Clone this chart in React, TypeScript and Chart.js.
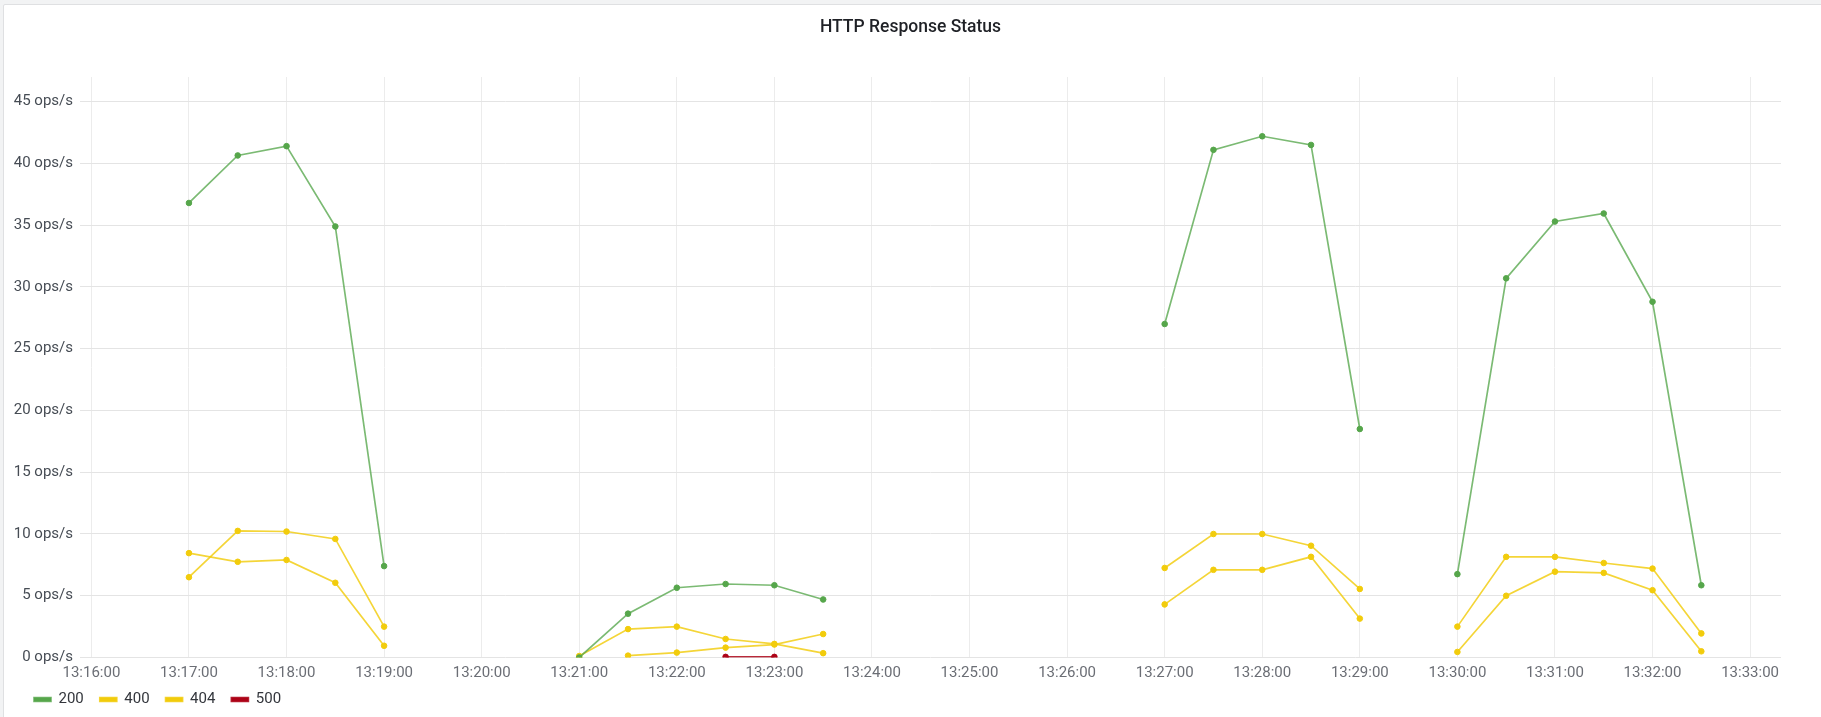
import React, { useEffect, useRef } from "react";
import { Chart, registerables } from "chart.js";

Chart.register(...registerables);

// ---- data ----
const times = [
  "13:17:00", "13:17:30", "13:18:00", "13:18:30", "13:19:00", "13:19:30",
  "13:20:00", "13:20:30", "13:21:00", "13:21:30", "13:22:00", "13:22:30",
  "13:23:00", "13:23:30", "13:24:00", "13:24:30", "13:25:00", "13:25:30",
  "13:26:00", "13:26:30", "13:27:00", "13:27:30", "13:28:00", "13:28:30",
  "13:29:00", "13:29:30", "13:30:00", "13:30:30", "13:31:00", "13:31:30",
  "13:32:00", "13:32:30",
];

const status200 = [
  36.8, 40.65, 41.4, 34.9, 7.4, null, null, null, 0.0, 3.55, 5.65, 5.95,
  5.85, 4.7, null, null, null, null, null, null, 27.0, 41.1, 42.2, 41.5,
  18.5, null, 6.75, 30.7, 35.3, 35.95, 28.8, 5.85,
];

const status400 = [
  6.5, 10.25, 10.2, 9.6, 2.5, null, null, null, 0.12, 2.3, 2.5, 1.5,
  1.1, 0.35, null, null, null, null, null, null, 7.25, 10.0, 10.0, 9.05,
  5.55, null, 2.5, 8.15, 8.15, 7.65, 7.2, 1.95,
];

const status404 = [
  8.45, 7.75, 7.9, 6.05, 0.95, null, null, null, null, 0.15, 0.4, 0.8,
  1.05, 1.9, null, null, null, null, null, null, 4.3, 7.1, 7.1, 8.15,
  3.15, null, 0.45, 5.0, 6.95, 6.85, 5.45, 0.5,
];

const status500 = [
  null, null, null, null, null, null, null, null, null, null, null, 0.05,
  0.05, null, null, null, null, null, null, null, null, null, null, null,
  null, null, null, null, null, null, null, null,
];

const xTickLabels = [
  "13:16:00", "13:17:00", "13:18:00", "13:19:00", "13:20:00", "13:21:00",
  "13:22:00", "13:23:00", "13:24:00", "13:25:00", "13:26:00", "13:27:00",
  "13:28:00", "13:29:00", "13:30:00", "13:31:00", "13:32:00", "13:33:00",
];
const xRange = ["13:15:53", "13:33:19"];
const yTickValues = [0, 5, 10, 15, 20, 25, 30, 35, 40, 45];
const yMax = 47;

const toSec = (t: string) => {
  const [h, m, s] = t.split(":").map(Number);
  return h * 3600 + m * 60 + s;
};

const GREEN = "#56A64B";
const YELLOW = "#F2CC0C";
const RED = "#AD0317";

const GREEN_LINE = "rgba(86,166,75,0.78)";
const YELLOW_LINE = "rgba(242,204,12,0.82)";
const RED_LINE = "rgba(173,3,23,0.85)";

// widen the label clip boxes of the axes so tick text is not cut off
const unclipLabels = {
  id: "unclipLabels",
  afterLayout(chart: any) {
    if (chart.scales.y) chart.scales.y.left = 0;
    if (chart.scales.x) chart.scales.x.bottom = chart.height;
  },
};

export default function App() {
  const ref = useRef<HTMLCanvasElement>(null);

  useEffect(() => {
    document.body.style.margin = "0";
    Chart.defaults.font.family = "Roboto, sans-serif";

    const mk = (
      label: string,
      vals: (number | null)[],
      color: string,
      line: string
    ) => ({
      label,
      data: times.map((t, i) => ({ x: toSec(t), y: vals[i] })),
      borderColor: line,
      backgroundColor: color,
      pointBackgroundColor: color,
      pointBorderColor: color,
      borderWidth: 1.7,
      pointRadius: 2.8,
      pointBorderWidth: 1,
      pointHoverRadius: 3,
      spanGaps: false,
      tension: 0,
      fill: false,
    });

    const chart = new Chart(ref.current!, {
      type: "line",
      data: {
        datasets: [
          mk("200", status200, GREEN, GREEN_LINE),
          mk("400", status400, YELLOW, YELLOW_LINE),
          mk("404", status404, YELLOW, YELLOW_LINE),
          mk("500", status500, RED, RED_LINE),
        ],
      },
      plugins: [unclipLabels],
      options: {
        responsive: false,
        animation: false,
        layout: { padding: { left: 18, right: 18, top: 0, bottom: 0 } },
        plugins: {
          title: {
            display: true,
            text: "HTTP Response Status",
            color: "#1f2126",
            font: { size: 17.5, weight: "500" as any },
            padding: { top: 17, bottom: 39 },
          },
          legend: {
            position: "bottom",
            align: "start",
            labels: {
              boxWidth: 17,
              boxHeight: 4,
              padding: 16,
              color: "#33363c",
              font: { size: 15 },
            },
          },
          tooltip: { enabled: false },
        },
        scales: {
          x: {
            type: "linear",
            min: toSec(xRange[0]),
            max: toSec(xRange[1]),
            afterBuildTicks: (axis: any) => {
              axis.ticks = xTickLabels.map((l) => ({ value: toSec(l) }));
            },
            afterFit: (s: any) => {
              s.height = 18.5;
            },
            ticks: {
              callback: (_v: any, i: number) => xTickLabels[i],
              color: "#6b6e75",
              font: { size: 15 },
              padding: 7,
              maxRotation: 0,
              autoSkip: false,
            },
            grid: { color: "#ececec", drawTicks: false },
            border: { display: false },
          },
          y: {
            type: "linear",
            min: 0,
            max: yMax,
            afterBuildTicks: (axis: any) => {
              axis.ticks = yTickValues.map((v) => ({ value: v }));
            },
            afterFit: (s: any) => {
              s.width = 62;
            },
            ticks: {
              callback: (v: any) => `${v} ops/s`,
              color: "#464c54",
              font: { size: 15 },
              padding: 7,
            },
            grid: { color: "#e4e4e4", drawTicks: false },
            border: { display: false },
          },
          yr: {
            type: "linear",
            position: "right",
            display: true,
            ticks: { display: false },
            grid: { display: false },
            border: { display: false },
            afterFit: (s: any) => {
              s.width = 22;
            },
          },
        },
      },
    } as any);

    return () => chart.destroy();
  }, []);

  return (
    <div
      style={{
        position: "relative",
        width: 1821,
        height: 717,
        overflow: "hidden",
        background: "#f2f3f4",
      }}
    >
      <div
        style={{
          position: "absolute",
          left: 3,
          top: 4,
          width: 1830,
          height: 730,
          background: "#ffffff",
          border: "1px solid #dfe0e2",
          borderRadius: 2,
        }}
      />
      <canvas
        ref={ref}
        width={1821}
        height={717}
        style={{ position: "absolute", left: 0, top: 0, width: 1821, height: 717 }}
      />
    </div>
  );
}
